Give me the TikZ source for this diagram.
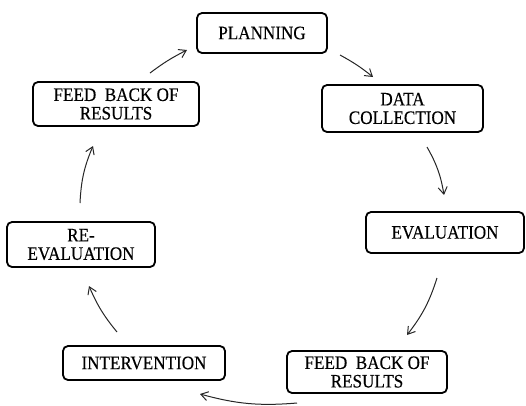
\documentclass[tikz,border=0pt]{standalone}
\usepackage{fontspec}
\setmainfont{Liberation Serif}
\newfontfamily\labelfont{Liberation Serif}[FakeStretch=0.9,FakeBold=0.3]
\usetikzlibrary{arrows.meta}
\begin{document}
\begin{tikzpicture}[x=1pt,y=1pt,
  stage/.style={draw=black, line width=1.8pt, rounded corners=5pt, fill=white,
    align=center, inner sep=0pt, font=\labelfont\fontsize{19}{18.5}\selectfont},
  arr/.style={draw=black!85, line width=1pt, -{Straight Barb[length=7pt,width=9pt]}},
]
\useasboundingbox (0,0) rectangle (526,-405);
\node[stage, minimum width=130pt, minimum height=40pt] (plan) at (262,-33) {PLANNING};
\node[stage, minimum width=161pt, minimum height=47pt] (data) at (402.5,-108.5) {DATA\\COLLECTION};
\node[stage, minimum width=158pt, minimum height=41pt] (eval) at (445,-232.5) {EVALUATION};
\node[stage, minimum width=160pt, minimum height=42pt] (fbr) at (367,-372) {FEED~ BACK OF\\RESULTS};
\node[stage, minimum width=162pt, minimum height=34pt] (inter) at (144,-363) {INTERVENTION};
\node[stage, minimum width=148pt, minimum height=45pt] (reev) at (81,-244.5) {RE-\\EVALUATION};
\node[stage, minimum width=166pt, minimum height=44pt] (fbl) at (116,-104) {FEED~ BACK OF\\RESULTS};
\coordinate (s1) at (150,-73);  \coordinate (e1) at (187,-50);
\coordinate (s2) at (340,-55);  \coordinate (e2) at (373,-77);
\coordinate (s3) at (427,-147); \coordinate (e3) at (444,-195);
\coordinate (s4) at (437,-278); \coordinate (e4) at (407,-335);
\coordinate (s5) at (297,-403); \coordinate (e5) at (200,-394);
\coordinate (s6) at (117,-332); \coordinate (e6) at (89,-286);
\coordinate (s7) at (80,-203);  \coordinate (e7) at (93,-146);
\draw[arr] (s1) to[bend left=5] (e1);
\draw[arr] (s2) to[bend left=5] (e2);
\draw[arr] (s3) to[bend left=10] (e3);
\draw[arr] (s4) to[bend left=10] (e4);
\draw[arr] (s5) to[bend left=10] (e5);
\draw[arr] (s6) to[bend left=8] (e6);
\draw[arr] (s7) to[bend left=10] (e7);
\end{tikzpicture}
\end{document}
